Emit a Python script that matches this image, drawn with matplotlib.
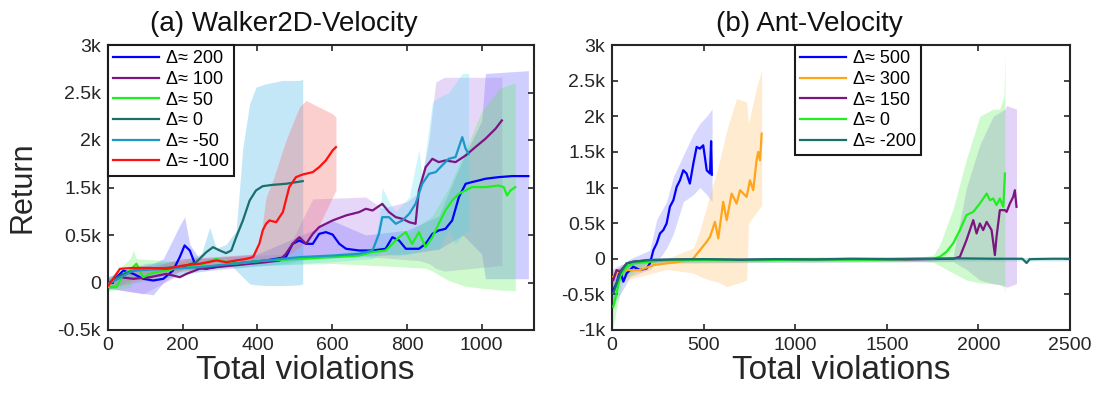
import matplotlib
matplotlib.use("Agg")
import matplotlib.pyplot as plt

plt.rcParams['font.family'] = ['Liberation Sans', 'DejaVu Sans']

# ---------------- Walker2D-Velocity data ----------------
w_labels = ['\u0394\u2248 200', '\u0394\u2248 100', '\u0394\u2248 50', '\u0394\u2248 0', '\u0394\u2248 -50', '\u0394\u2248 -100']

w200_x = [1, 23, 41, 68, 94, 121, 148, 174, 192, 205, 219, 236, 263, 334, 423, 476, 494, 512, 530, 548, 565, 583, 601,
          619, 637, 672, 708, 743, 761, 779, 797, 832, 850, 868, 885, 903, 921, 939, 957, 974, 992, 1010, 1045, 1081, 1125]
w200_y = [-14, 56, 126, 91, 39, 21, 39, 126, 267, 390, 337, 161, 144, 197, 232, 267, 407, 442, 407, 407, 512, 530, 505,
          407, 355, 337, 337, 355, 477, 442, 355, 355, 407, 512, 548, 565, 653, 899, 1039, 1057, 1074, 1092, 1109, 1120, 1120]
w200_bx = [0, 121, 148, 192, 205, 219, 245, 400, 548, 601, 690, 800, 885, 950, 1000, 1010, 1125]
w200_hi = [60, 200, 250, 600, 690, 400, 250, 300, 550, 650, 500, 550, 700, 1300, 1700, 2200, 2230]
w200_lo = [-60, -130, 0, 120, 150, 130, 150, 200, 250, 300, 280, 300, 350, 500, 300, 40, 40]

w100_x = [1, 32, 68, 112, 156, 192, 210, 245, 334, 423, 459, 476, 494, 512, 530, 548, 565, 601, 637, 672, 690, 708,
          734, 752, 770, 788, 806, 823, 832, 850, 868, 885, 903, 930, 957, 983, 1010, 1037, 1054]
w100_y = [-14, 56, 39, 56, 91, 56, 91, 144, 179, 214, 232, 302, 407, 477, 407, 512, 583, 653, 706, 741, 776, 758,
          828, 741, 688, 670, 635, 618, 969, 1214, 1302, 1267, 1285, 1267, 1337, 1425, 1513, 1618, 1706]
w100_bx = [0, 94, 200, 476, 512, 548, 690, 734, 800, 832, 859, 877, 900, 1054]
w100_hi = [40, 150, 250, 300, 600, 880, 900, 780, 850, 950, 1500, 2110, 2160, 2160]
w100_lo = [-60, -120, 100, 200, 230, 250, 270, 260, 240, 230, 200, 150, 120, 180]

w50_x = [1, 23, 41, 59, 76, 94, 112, 130, 156, 201, 245, 290, 334, 423, 512, 601, 672, 708, 743, 761, 779, 797, 814,
         832, 850, 868, 885, 903, 921, 939, 957, 974, 1010, 1045, 1059, 1068, 1077, 1090]
w50_y = [-49, -49, 91, 126, 197, 56, 91, 109, 126, 161, 179, 249, 197, 232, 249, 267, 284, 319, 337, 407, 477, 530, 407,
         530, 372, 477, 618, 758, 863, 934, 969, 1004, 1004, 1021, 1004, 916, 969, 1004]
w50_bx = [0, 59, 68, 76, 200, 400, 600, 761, 850, 868, 912, 957, 1000, 1050, 1090]
w50_hi = [40, 250, 340, 250, 220, 250, 300, 400, 650, 700, 1000, 1400, 1800, 2050, 2100]
w50_lo = [-90, -50, 50, 80, 130, 180, 200, 170, 150, 120, 20, -40, -60, -80, -85]

w0_x = [1, 32, 68, 112, 156, 201, 236, 263, 281, 299, 316, 330, 343, 361, 379, 396, 414, 441, 476, 521]
w0_y = [-14, 74, 126, 144, 154, 168, 214, 319, 372, 337, 309, 337, 477, 653, 863, 969, 1014, 1028, 1039, 1067]
w0_bx = [0, 100, 200, 250, 272, 290, 316, 343, 361, 379, 396, 423, 468, 512, 521]
w0_hi = [60, 200, 230, 300, 580, 360, 400, 548, 1425, 1881, 2057, 2092, 2127, 2127, 2140]
w0_lo = [-80, 100, 130, 150, 200, 250, 250, 126, 56, -14, -25, -32, -32, -25, -14]

wm50_x = [1, 68, 156, 245, 334, 423, 512, 601, 672, 708, 725, 734, 752, 770, 788, 806, 823, 841, 859, 877, 894, 912,
          930, 948, 957, 965]
wm50_y = [-14, 126, 144, 161, 197, 232, 267, 284, 302, 337, 512, 688, 688, 618, 653, 723, 828, 1039, 1144, 1162, 1232,
          1302, 1320, 1530, 1408, 1355]
wm50_bx = [0, 300, 600, 708, 725, 734, 752, 770, 806, 832, 841, 868, 885, 912, 930, 948, 965]
wm50_hi = [40, 250, 300, 350, 650, 1000, 850, 750, 900, 1400, 1100, 1900, 1950, 2000, 2100, 2200, 2200]
wm50_lo = [-60, 150, 220, 250, 300, 330, 300, 280, 300, 330, 330, 350, 350, 550, 400, 500, 550]

wm100_x = [1, 32, 68, 112, 156, 201, 245, 290, 316, 343, 370, 388, 405, 414, 423, 432, 450, 468, 485, 503, 521, 548,
           565, 583, 601, 610]
wm100_y = [-32, 144, 154, 154, 144, 179, 197, 232, 214, 232, 249, 267, 407, 548, 618, 653, 635, 741, 1004, 1109, 1137,
           1162, 1214, 1285, 1390, 1425]
wm100_bx = [0, 200, 388, 405, 423, 441, 476, 512, 530, 565, 601, 610]
wm100_hi = [40, 250, 300, 372, 899, 1074, 1495, 1846, 1916, 1846, 1776, 1741]
wm100_lo = [-60, 120, 200, 197, 232, 250, 267, 372, 450, 600, 899, 969]

w_yticks = [-500, 0, 500, 1000, 1500, 2000, 2500]
w_yticklabels = ['-0.5k', '0', '0.5k', '1.5k', '2k', '2.5k', '3k']
w_xticks = [0, 200, 400, 600, 800, 1000]

# ---------------- Ant-Velocity data ----------------
a_labels = ['\u0394\u2248 500', '\u0394\u2248 300', '\u0394\u2248 150', '\u0394\u2248 0', '\u0394\u2248 -200']

a500_x = [7, 25, 44, 62, 80, 116, 153, 189, 207, 226, 244, 262, 280, 298, 316, 335, 353, 371, 389, 407, 425, 444, 462,
          480, 498, 517, 535, 541, 545]
a500_y = [-439, -346, -159, -322, -205, -112, -159, -136, -65, 121, 215, 355, 402, 495, 729, 822, 1009, 1102, 1242, 1196,
          1055, 1336, 1569, 1546, 1592, 1242, 1196, 1650, 1180]
a500_bx = [0, 100, 207, 244, 298, 335, 389, 444, 480, 517, 546]
a500_hi = [-200, 0, 120, 550, 800, 1150, 1450, 1750, 1900, 2000, 2100]
a500_lo = [-700, -250, -150, -50, 150, 350, 800, 900, 1000, 900, 800]

a300_x = [7, 44, 80, 153, 226, 298, 371, 425, 444, 480, 517, 535, 562, 580, 607, 626, 653, 680, 699, 735, 753, 771, 789,
          798, 808, 817]
a300_y = [-252, -159, -159, -159, -89, -65, -42, -19, 5, 121, 238, 308, 518, 285, 799, 542, 915, 775, 962, 869, 1102, 962,
          1382, 1499, 1382, 1756]
a300_bx = [0, 153, 298, 444, 480, 535, 580, 626, 680, 735, 745, 789, 817]
a300_hi = [-150, -60, 0, 150, 400, 900, 1300, 1800, 2250, 2200, 1900, 2400, 2650]
a300_lo = [-350, -250, -150, -200, -250, -300, -330, -390, -350, -300, 500, 650, 750]

a150_x = [7, 25, 44, 80, 116, 200, 400, 700, 1000, 1300, 1600, 1862, 1899, 1935, 1972, 1990, 2008, 2026, 2045, 2072,
          2090, 2099, 2117, 2145, 2154, 2172, 2190, 2199, 2208]
a150_y = [-300, -159, -182, -65, -42, -20, -10, -15, -10, -5, -10, 0, 28, 262, 542, 355, 495, 402, 518, 402,
          51, 308, 682, 682, 658, 775, 869, 962, 729]
a150_bx = [0, 50, 200, 1862, 1935, 2008, 2081, 2145, 2154, 2208]
a150_hi = [-150, -80, 10, 30, 1000, 1600, 2000, 2100, 2150, 2100]
a150_lo = [-500, -250, -60, -40, -150, -300, -350, -380, -400, -350]

a0_x = [7, 25, 44, 80, 116, 207, 298, 500, 800, 1100, 1400, 1700, 1754, 1790, 1826, 1862, 1899, 1935, 1972, 2008,
        2045, 2063, 2081, 2099, 2117, 2136, 2145]
a0_y = [-672, -486, -252, -112, -65, -42, -19, -15, -20, -10, -15, 0, 0, 28, 98, 215, 402, 612, 658, 775,
        915, 822, 845, 752, 845, 729, 1196]
a0_bx = [0, 7, 25, 60, 200, 1700, 1754, 1790, 1862, 1935, 2008, 2081, 2117, 2140, 2145]
a0_hi = [-300, -350, -250, -80, 10, 30, 50, 200, 700, 1400, 2000, 2100, 2100, 2300, 2900]
a0_lo = [-1000, -950, -700, -300, -60, -40, -50, -100, -200, -300, -340, -350, -360, -400, -480]

am200_x = [7, 44, 80, 116, 200, 350, 500, 700, 900, 1100, 1300, 1500, 1700, 1900, 2100, 2240, 2263, 2280, 2400, 2505]
am200_y = [-486, -205, -65, -42, -20, -10, -5, -15, -5, -10, 0, -5, 0, 5, 0, 0, -60, -5, 0, 0]
am200_bx = [0, 7, 44, 116, 200, 2505]
am200_hi = [-250, -350, -120, -10, 10, 20]
am200_lo = [-800, -650, -300, -80, -40, -30]

a_yticks = [-1000, -500, 0, 500, 1000, 1500, 2000, 2500, 3000]
a_yticklabels = ['-1k', '-0.5k', '0', '0.5k', '1k', '1.5k', '2k', '2.5k', '3k']
a_xticks = [0, 500, 1000, 1500, 2000, 2500]

# ---------------- styling ----------------
C_BLUE = '#0000ff'
C_PURPLE = '#7d1580'
C_GREEN = '#1ef01e'
C_TEAL = '#1b6e6e'
C_LBLUE = '#1b98c8'
C_RED = '#ff1010'
C_ORANGE = '#ffa51a'
SPINE = '#262626'

fig = plt.figure(figsize=(11.03, 4.0), dpi=100)
W, H = 1103.0, 400.0
ax1 = fig.add_axes([108 / W, 70 / H, 426 / W, 285 / H])
ax2 = fig.add_axes([612 / W, 70 / H, 458 / W, 285 / H])

w_series = [
    (w200_x, w200_y, w200_bx, w200_lo, w200_hi, C_BLUE, '#6060ff', 0.30),
    (w100_x, w100_y, w100_bx, w100_lo, w100_hi, C_PURPLE, '#a870ec', 0.28),
    (w50_x, w50_y, w50_bx, w50_lo, w50_hi, C_GREEN, '#50f050', 0.28),
    (w0_x, w0_y, w0_bx, w0_lo, w0_hi, C_TEAL, '#3cb0e6', 0.30),
    (wm50_x, wm50_y, wm50_bx, wm50_lo, wm50_hi, C_LBLUE, '#40dcee', 0.26),
    (wm100_x, wm100_y, wm100_bx, wm100_lo, wm100_hi, C_RED, '#f86a6a', 0.32),
]
a_series = [
    (a500_x, a500_y, a500_bx, a500_lo, a500_hi, C_BLUE, '#7070ff', 0.28),
    (a300_x, a300_y, a300_bx, a300_lo, a300_hi, C_ORANGE, '#ffc060', 0.30),
    (a150_x, a150_y, a150_bx, a150_lo, a150_hi, C_PURPLE, '#a870ec', 0.30),
    (a0_x, a0_y, a0_bx, a0_lo, a0_hi, C_GREEN, '#50f050', 0.28),
    (am200_x, am200_y, am200_bx, am200_lo, am200_hi, C_TEAL, '#3cb0b0', 0.25),
]


def draw(ax, series, labels):
    for s in series:
        ax.fill_between(s[2], s[3], s[4], color=s[6], alpha=s[7], linewidth=0, zorder=1)
    handles = []
    for s, lab in zip(series, labels):
        h, = ax.plot(s[0], s[1], color=s[5], linewidth=1.6, label=lab, zorder=3)
        handles.append(h)
    return handles


h1 = draw(ax1, w_series, w_labels)
h2 = draw(ax2, a_series, a_labels)

for ax in (ax1, ax2):
    for sp in ax.spines.values():
        sp.set_color(SPINE)
        sp.set_linewidth(1.5)
    ax.tick_params(direction='in', top=True, right=True, length=4, width=1.2,
                   color=SPINE, labelsize=14, labelcolor='#262626', pad=5)

ax1.set_xlim(0, 1140)
ax1.set_ylim(-500, 2500)
ax1.set_xticks(w_xticks)
ax1.set_yticks(w_yticks)
ax1.set_yticklabels(w_yticklabels)

ax2.set_xlim(0, 2500)
ax2.set_ylim(-1000, 3000)
ax2.set_xticks(a_xticks)
ax2.set_yticks(a_yticks)
ax2.set_yticklabels(a_yticklabels)

ax1.set_title('(a) Walker2D-Velocity', fontsize=20, x=0.413, pad=10, color='#111111')
ax2.set_title('(b) Ant-Velocity', fontsize=20, x=0.432, pad=10, color='#111111')

ax1.set_xlabel('Total violations', fontsize=24, color='#262626')
ax2.set_xlabel('Total violations', fontsize=24, color='#262626')
ax1.xaxis.set_label_coords(0.462, -0.088)
ax2.xaxis.set_label_coords(0.5, -0.088)
ax1.set_ylabel('Return', fontsize=22, color='#262626')
ax1.yaxis.set_label_coords(-0.165, 0.5)

leg_kw = dict(fontsize=13, frameon=True, fancybox=False, borderaxespad=0, handlelength=2.5,
              handletextpad=0.4, labelspacing=0.2, borderpad=0.3)
l1 = ax1.legend(handles=h1, loc='upper left', **leg_kw)
l2 = ax2.legend(handles=h2, loc='upper left', bbox_to_anchor=((795 - 612) / 458, 1.0), **leg_kw)
for lg in (l1, l2):
    fr = lg.get_frame()
    fr.set_edgecolor('#1a1a1a')
    fr.set_linewidth(1.5)
    fr.set_alpha(1)

fig.savefig('out.png', dpi=100)
